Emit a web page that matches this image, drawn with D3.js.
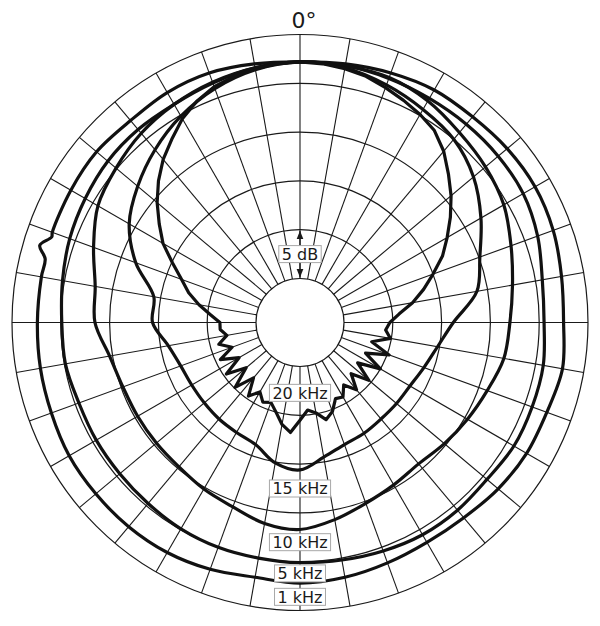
<!DOCTYPE html>
<html>
<head>
<meta charset="utf-8">
<script src="https://cdn.jsdelivr.net/npm/d3@7"></script>
<style>
  body { margin: 0; background: #fff; }
  text { font-family: "DejaVu Sans", Verdana, sans-serif; fill: #1a1a1a; }
</style>
</head>
<body>
<div id="root"></div>
<script>
// sampling angles (deg, clockwise from 0° on top)
const angles = d3.range(0, 360, 10);
const angles1k = d3.range(0, 290, 10).concat([284, 286.5, 289]).concat(d3.range(290, 360, 10))
  .sort((a, b) => a - b);
const angles20k = d3.range(0, 360, 5);

// levels in dB
const level1k = [-0.3, -0.1, 0.2, 0.5, 0.5, 0.7, 0.8, 0.6, 0.2, 0.0, 0.3, -0.1,
  -0.2, -0.5, -0.9, -1.0, -0.8, -0.5, -0.3, -0.5, -0.1, 0.2, 0.3, 0.3,
  0.3, 0.1, 0.0, -0.1, -0.1, -0.1, 0.8, -0.1, 0.0, 0.1, 0.2, 0.0, 0.2, 0.2, -0.1];
const level5k = [-0.3, -0.3, -0.4, -0.5, -0.5, -0.5, -0.6, -1.1, -1.8, -2.0, -1.7, -1.7,
  -1.7, -2.0, -1.9, -1.9, -2.1, -2.3, -2.4, -2.5, -2.5, -2.6, -2.8, -2.9,
  -2.9, -2.9, -2.6, -2.6, -2.3, -1.9, -1.6, -1.3, -1.2, -1.2, -0.9, -0.5];
const level10k = [-0.3, -0.3, -0.3, -0.8, -1.6, -2.2, -2.9, -4.0, -4.9, -5.5, -5.8, -6.6,
  -7.2, -7.7, -8.1, -7.8, -7.3, -6.5, -5.8, -6.1, -6.9, -7.3, -7.7, -7.8,
  -7.8, -7.7, -7.2, -6.0, -5.7, -4.5, -3.1, -2.4, -1.7, -1.2, -0.8, -0.5];
const level15k = [-0.3, -0.5, -1.1, -1.8, -2.5, -3.8, -5.6, -7.4, -8.6, -11.3, -12.7, -13.5,
  -14.0, -14.1, -14.1, -13.9, -13.7, -13.0, -11.9, -12.4, -13.7, -14.0, -14.1, -14.2,
  -14.2, -14.0, -13.3, -11.9, -11.8, -9.1, -6.8, -5.3, -3.9, -2.6, -1.5, -0.7];
const level20k = [-0.3, -0.4, -0.6, -0.9, -1.4, -1.9, -2.4, -3.0, -4.1, -5.5, -6.8, -8.2,
  -9.6, -10.9, -12.5, -13.9, -15.3, -16.8, -17.8, -18.2, -17.6, -19.4, -17.3, -19.6,
  -17.5, -19.8, -17.8, -19.6, -18.0, -19.2, -18.2, -18.4, -17.3, -16.7, -17.6, -18.0,
  -17.0, -15.7, -16.4, -17.5, -18.3, -18.0, -18.8, -17.8, -19.6, -17.6, -19.8, -17.8,
  -19.8, -18.0, -19.6, -18.4, -19.4, -18.8, -18.8, -17.8, -16.5, -15.2, -14.1, -12.6,
  -10.8, -9.4, -7.9, -6.5, -5.2, -4.1, -2.9, -2.0, -1.3, -0.9, -0.6, -0.4];

const freqLabels = ["1 kHz", "5 kHz", "10 kHz", "15 kHz", "20 kHz"];
const ringLevels = [-22.5, -17.5, -12.5, -7.5, -2.5, 2.5];
const spokeAngles = d3.range(0, 360, 10);

const series = [
  { angles: angles1k, values: level1k },
  { angles: angles, values: level5k },
  { angles: angles, values: level10k },
  { angles: angles, values: level15k },
  { angles: angles20k, values: level20k, jagged: true }
];

// layout: where each frequency label sits along the 180° line (dB)
const labelLevel = [1.1, -1.3, -4.5, -10.0, -19.8];

const width = 600, height = 626;
const cx = 300, cy = 322.5;

const r = d3.scaleLinear().domain([-22.5, 2.5]).range([44, 288]);
const rad = d => d * Math.PI / 180;

const svg = d3.select("#root").append("svg")
  .attr("width", width)
  .attr("height", height);

const g = svg.append("g").attr("transform", `translate(${cx},${cy})`);

// spokes
g.append("g")
  .selectAll("line")
  .data(spokeAngles)
  .enter()
  .append("line")
  .attr("x1", d => r(-22.5) * Math.sin(rad(d)))
  .attr("y1", d => -r(-22.5) * Math.cos(rad(d)))
  .attr("x2", d => r(2.5) * Math.sin(rad(d)))
  .attr("y2", d => -r(2.5) * Math.cos(rad(d)))
  .attr("stroke", "#1a1a1a")
  .attr("stroke-width", 1.1);

// rings
g.append("g")
  .selectAll("circle")
  .data(ringLevels)
  .enter()
  .append("circle")
  .attr("r", d => r(d))
  .attr("fill", "none")
  .attr("stroke", "#1a1a1a")
  .attr("stroke-width", 1.2);

// curves
g.append("g")
  .selectAll("path")
  .data(series)
  .enter()
  .append("path")
  .attr("d", s => d3.lineRadial()
    .angle((v, i) => rad(s.angles[i]))
    .radius(v => r(v))
    .curve(s.jagged ? d3.curveLinearClosed : d3.curveCatmullRomClosed)(s.values))
  .attr("fill", "none")
  .attr("stroke", "#111")
  .attr("stroke-width", 3.2)
  .attr("stroke-linejoin", "round");

// boxed label helper
function boxLabel(parent, text, y, size) {
  const lg = parent.append("g");
  const t = lg.append("text")
    .attr("x", 0)
    .attr("y", y)
    .attr("dy", "0.36em")
    .attr("text-anchor", "middle")
    .attr("font-size", size)
    .text(text);
  const w = t.node().getComputedTextLength() + 6;
  lg.insert("rect", "text")
    .attr("x", -w / 2)
    .attr("y", y - 8.5)
    .attr("width", w)
    .attr("height", 17)
    .attr("fill", "#fff")
    .attr("stroke", "#a8a8a8")
    .attr("stroke-width", 1);
}

// frequency labels along the 180° line
freqLabels.forEach((f, i) => boxLabel(g, f, r(labelLevel[i]), 16));

// 5 dB step marker between the two innermost rings
const yTop = -r(-17.5), yBot = -r(-22.5), yMid = (yTop + yBot) / 2;
svg.append("defs").append("marker")
  .attr("id", "arr")
  .attr("viewBox", "0 0 10 10")
  .attr("refX", 10).attr("refY", 5)
  .attr("markerWidth", 7).attr("markerHeight", 7)
  .attr("orient", "auto")
  .append("path")
  .attr("d", "M0,1 L10,5 L0,9 Z")
  .attr("fill", "#1a1a1a");
g.append("line")
  .attr("x1", 0).attr("y1", yMid - 8).attr("x2", 0).attr("y2", yTop + 1)
  .attr("stroke", "#1a1a1a").attr("stroke-width", 1.2)
  .attr("marker-end", "url(#arr)");
g.append("line")
  .attr("x1", 0).attr("y1", yMid + 8).attr("x2", 0).attr("y2", yBot - 1)
  .attr("stroke", "#1a1a1a").attr("stroke-width", 1.2)
  .attr("marker-end", "url(#arr)");
boxLabel(g, "5 dB", yMid, 16);

// angle label
svg.append("text")
  .attr("x", cx + 4)
  .attr("y", 28)
  .attr("text-anchor", "middle")
  .attr("font-size", 22)
  .text("0°");
</script>
</body>
</html>
